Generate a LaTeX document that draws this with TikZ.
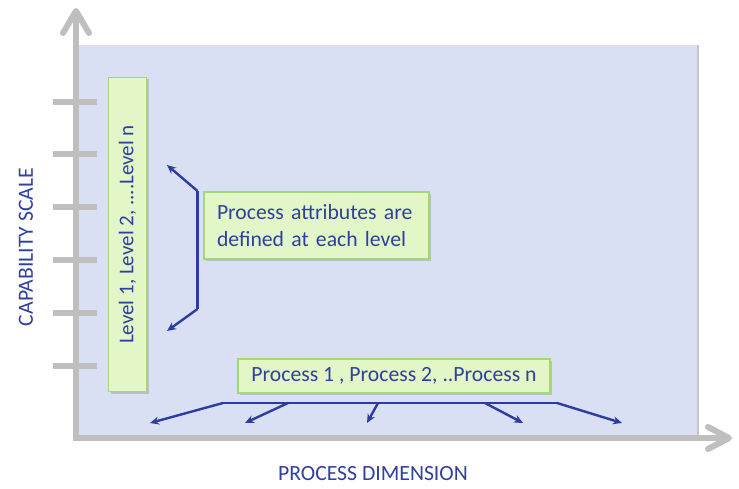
\documentclass[tikz,border=0pt]{standalone}
\usepackage{fontspec}
\setmainfont{Carlito}
\usetikzlibrary{arrows.meta,shadows}
\definecolor{bgblue}{RGB}{218,224,244}
\definecolor{axisgray}{RGB}{191,191,191}
\definecolor{boxgreen}{RGB}{227,246,200}
\definecolor{boxborder}{RGB}{164,216,112}
\definecolor{txtblue}{RGB}{47,64,158}
\definecolor{arrblue}{RGB}{46,59,160}
\tikzset{
  gbox/.style={draw=boxborder, line width=1.2pt, fill=boxgreen, text=txtblue,
    font=\fontsize{21.7}{27}\selectfont, inner sep=0pt,
    drop shadow={shadow xshift=2pt, shadow yshift=-2pt, opacity=0.35, fill=gray}},
  axis/.style={draw=axisgray, line width=6pt},
  chev/.style={draw=axisgray, line width=6pt, line cap=round, line join=round},
  tick/.style={draw=axisgray, line width=6pt},
  barr/.style={draw=arrblue, line width=2.4pt, -{Stealth[length=9pt,width=8pt]}},
  bline/.style={draw=arrblue, line width=2.4pt},
  lab/.style={text=txtblue, font=\fontsize{21.7}{26}\selectfont}
}
\begin{document}
\begin{tikzpicture}[x=1pt,y=-1pt]
\useasboundingbox (0,0) rectangle (739,489);
% background panel
\fill[bgblue, drop shadow={shadow xshift=2pt, shadow yshift=0pt, opacity=0.45, fill=gray}] (77,45) rectangle (697,438);
% ticks
\foreach \yy in {102,154,207,260,313,366}
  \draw[tick] (53,\yy) -- (97,\yy);
% axes
\draw[axis] (76,438) -- (76,12);
\draw[chev] (63,33) -- (76,11) -- (89,33);
\draw[axis] (73,438) -- (728,438);
\draw[chev] (708,427) -- (729,438) -- (708,449);
% axis labels
\node[lab, rotate=90] (ylab) at (26,247) {CAPABILITY SCALE};
\node[lab] (xlab) at (373,474) {PROCESS DIMENSION};
% level box
\node[gbox, rotate=90, minimum width=314pt, minimum height=38pt, font=\fontsize{21}{26}\selectfont] (levels) at (127.5,234.5) {Level 1, Level 2, ....Level n};
% attributes box
\node[gbox, minimum width=225pt, minimum height=67pt, text width=199pt, align=left] (attr) at (316.5,225.5) {Process attributes are\\defined at each level};
% process box
\node[gbox, minimum width=312pt, minimum height=34pt] (procs) at (394,376) {Process 1 , Process 2, ..Process n};
% bracket
\coordinate (bt) at (197.5,191);
\coordinate (bb) at (197.5,309);
\coordinate (tt) at (167,165);
\coordinate (tb) at (167,331);
\draw[bline] (bt) -- (bb);
\draw[barr] (bt) -- (tt);
\draw[barr] (bb) -- (tb);
% process line and arrows
\coordinate (pl) at (223,403);
\coordinate (pr) at (557,403);
\coordinate (p2) at (288,403);
\coordinate (p3) at (378,403);
\coordinate (p4) at (485,403);
\coordinate (a1) at (150,423);
\coordinate (a2) at (245,423);
\coordinate (a3) at (367,423);
\coordinate (a4) at (523,423);
\coordinate (a5) at (622,423);
\draw[bline] (pl) -- (pr);
\draw[barr] (pl) -- (a1);
\draw[barr] (p2) -- (a2);
\draw[barr] (p3) -- (a3);
\draw[barr] (p4) -- (a4);
\draw[barr] (pr) -- (a5);
\end{tikzpicture}
\end{document}
